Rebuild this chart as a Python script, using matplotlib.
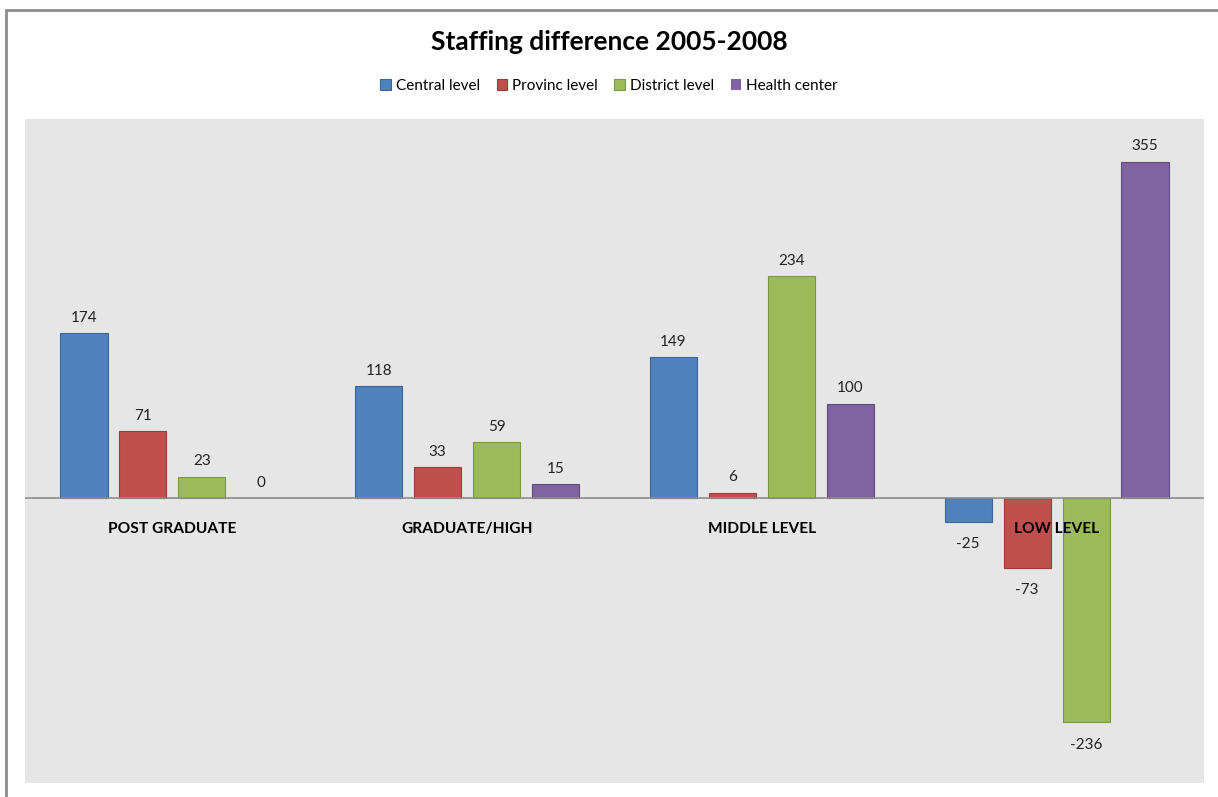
import numpy as np
import matplotlib.pyplot as plt
from matplotlib.patches import Rectangle

categories = ['POST GRADUATE', 'GRADUATE/HIGH', 'MIDDLE LEVEL', 'LOW LEVEL']
series = ['Central level', 'Provinc level', 'District level', 'Health center']
central = [174, 118, 149, -25]
provinc = [71, 33, 6, -73]
district = [23, 59, 234, -236]
health = [0, 15, 100, 355]

colors = ['#4F81BD', '#C0504D', '#9BBB59', '#8064A2']
edges = ['#3A6596', '#9A3C3A', '#7A9A40', '#5F4A7E']

plt.rcParams['font.family'] = ['Lato', 'DejaVu Sans']

W, H = 1218, 797
fig = plt.figure(figsize=(W / 100, H / 100), dpi=100)

# outer chart border (cut off at the right and bottom like the screenshot)
fig.patches.append(Rectangle((6 / W, -0.1), 1.2, 1 - 10 / H + 0.1, transform=fig.transFigure,
                             fill=False, edgecolor='#8C8C8C', linewidth=2))

ax = fig.add_axes([25 / W, 1 - 783 / H, (1204 - 25) / W, (783 - 119) / H])
ax.set_facecolor('#E6E6E6')
for s in ax.spines.values():
    s.set_visible(False)
ax.set_xticks([])
ax.set_yticks([])
ax.set_xlim(-0.5, 3.5)
ax.set_ylim(-300, 400)

x = np.arange(len(categories))
width = 0.16
offsets = [-0.3, -0.1, 0.1, 0.3]
for vals, name, c, ec, off in zip([central, provinc, district, health], series, colors, edges, offsets):
    bars = ax.bar(x + off, vals, width, color=c, edgecolor=ec, linewidth=0.8, label=name, zorder=2)
    for b, v in zip(bars, vals):
        if v == 0:
            b.set_linewidth(0)
        if v >= 0:
            ax.annotate(str(v), (b.get_x() + b.get_width() / 2, v), xytext=(0, 6),
                        textcoords='offset points', ha='center', va='bottom', fontsize=11, color='#222222')
        else:
            ax.annotate(str(v), (b.get_x() + b.get_width() / 2, v), xytext=(0, -11),
                        textcoords='offset points', ha='center', va='top', fontsize=11, color='#222222')

ax.axhline(0, color='#8C8C8C', linewidth=1.2, zorder=3)

for xi, cat in zip(x, categories):
    ax.annotate(cat, (xi, 0), xytext=(0, -22), textcoords='offset points', ha='center', va='center',
                fontsize=11.2, fontweight='bold', color='black', zorder=4)

fig.text(0.5, 1 - 42 / H, 'Staffing difference 2005-2008', ha='center', va='center',
         fontsize=19, fontweight='bold')
fig.legend(loc='center', bbox_to_anchor=(0.5, 1 - 86 / H), ncol=4, frameon=False, fontsize=11,
           handlelength=0.7, handleheight=0.7, handletextpad=0.3, columnspacing=1.1)

fig.savefig('out.png', dpi=100)
